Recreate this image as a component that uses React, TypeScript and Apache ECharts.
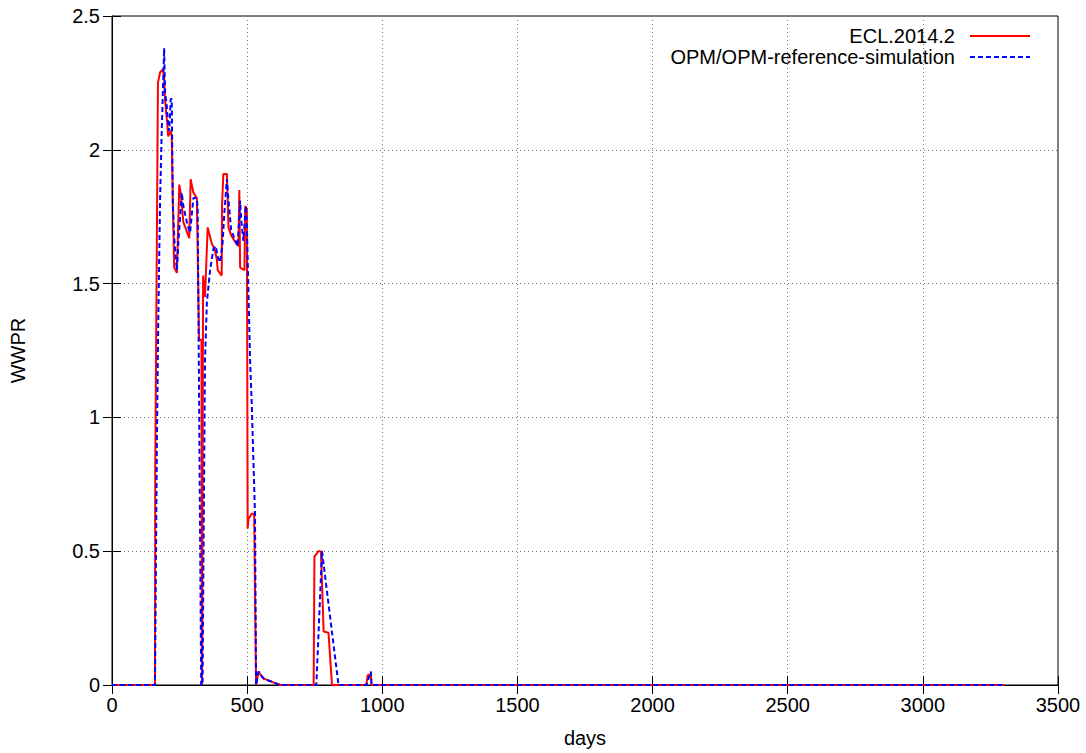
import React, { useEffect, useRef } from "react";
import * as echarts from "echarts";

const eclDays = [0, 159, 160, 170, 178, 188, 193, 196, 205, 208, 217, 221, 225, 230, 240, 249, 254, 264, 286, 291, 301, 314, 322, 331, 333, 337, 344, 354, 369, 379, 388, 391, 406, 407, 412, 425, 431, 441, 453, 468, 471, 474, 490, 493, 499, 502, 505, 517, 526, 533, 542, 551, 560, 573, 597, 622, 746, 749, 764, 773, 783, 801, 814, 941, 946, 958, 960, 3300];
const eclWwpr = [0, 0, 0.8, 2.25, 2.29, 2.3, 2.27, 2.19, 2.09, 2.05, 2.07, 2.05, 1.81, 1.56, 1.54, 1.87, 1.84, 1.73, 1.67, 1.89, 1.84, 1.82, 1.29, 1.29, 0, 1.53, 1.45, 1.71, 1.65, 1.63, 1.59, 1.55, 1.53, 1.79, 1.91, 1.91, 1.71, 1.68, 1.66, 1.64, 1.85, 1.56, 1.55, 1.79, 1.78, 0.585, 0.62, 0.64, 0.64, 0, 0.05, 0.037, 0.025, 0.019, 0.01, 0, 0, 0.48, 0.5, 0.5, 0.2, 0.195, 0, 0, 0.037, 0.04, 0, 0];

const opmDays = [0, 159, 166, 171, 178, 184, 193, 196, 203, 208, 212, 217, 221, 225, 231, 240, 246, 258, 264, 279, 289, 301, 314, 317, 330, 335, 344, 351, 363, 375, 384, 391, 400, 409, 416, 425, 431, 441, 453, 465, 474, 478, 486, 495, 499, 502, 505, 511, 517, 529, 530, 533, 542, 551, 560, 573, 597, 622, 756, 777, 838, 941, 958, 960, 3300];
const opmWwpr = [0, 0, 0.9, 1.35, 1.82, 2.07, 2.38, 2.22, 2.16, 2.09, 2.07, 2.19, 2.19, 1.8, 1.66, 1.55, 1.66, 1.84, 1.79, 1.72, 1.69, 1.82, 1.82, 1.78, 0, 0, 1.21, 1.43, 1.55, 1.63, 1.64, 1.6, 1.58, 1.65, 1.77, 1.89, 1.81, 1.7, 1.67, 1.64, 1.81, 1.74, 1.66, 1.79, 1.72, 1.59, 1.46, 1.21, 1.05, 0.64, 0.64, 0, 0.05, 0.037, 0.025, 0.019, 0.01, 0, 0, 0.5, 0, 0, 0.05, 0, 0];

const seriesNames = ["ECL.2014.2", "OPM/OPM-reference-simulation"];
const xTicks = { min: 0, max: 3500, interval: 500 };
const yTicks = { min: 0, max: 2.5, interval: 0.5 };

const FONT = "Liberation Sans";
const FS = 20;

export default function App() {
  const ref = useRef<HTMLDivElement>(null);
  useEffect(() => {
    document.body.style.margin = "0";
    const chart = echarts.init(ref.current!, null, { renderer: "svg" });
    const zip = (a: number[], b: number[]) => a.map((d, i) => [d, b[i]]);
    const tickStyle = { show: true, inside: true, length: 9, lineStyle: { color: "#000", width: 1 } };
    const labelStyle = { color: "#000", fontFamily: FONT, fontSize: FS };
    const fmt = (v: number) => String(v);
    const left = 112, top = 16, right = 1058;
    chart.setOption({
      animation: false,
      backgroundColor: "#fff",
      grid: { left, top, width: right - left, height: 685 - top, show: true, borderColor: "#000", borderWidth: 1, backgroundColor: "transparent" },
      xAxis: [
        {
          type: "value", ...xTicks, position: "bottom",
          axisLine: { show: true, lineStyle: { color: "#000" } },
          axisTick: tickStyle,
          axisLabel: { ...labelStyle, margin: 10, formatter: fmt },
          splitLine: { show: true, lineStyle: { color: "#777", type: [1, 3], width: 1 } },
          name: "days", nameLocation: "middle", nameGap: 43,
          nameTextStyle: { ...labelStyle },
        },
        {
          type: "value", ...xTicks, position: "top",
          axisLine: { show: false }, axisTick: tickStyle, axisLabel: { show: false }, splitLine: { show: false },
        },
      ],
      yAxis: [
        {
          type: "value", ...yTicks, position: "left",
          axisLine: { show: true, lineStyle: { color: "#000" } },
          axisTick: tickStyle,
          axisLabel: { ...labelStyle, margin: 12, formatter: fmt },
          splitLine: { show: true, lineStyle: { color: "#777", type: [1, 3], width: 1 } },
          name: "WWPR", nameLocation: "middle", nameGap: 84, nameRotate: 90,
          nameTextStyle: { ...labelStyle },
        },
        {
          type: "value", ...yTicks, position: "right",
          axisLine: { show: false }, axisTick: tickStyle, axisLabel: { show: false }, splitLine: { show: false },
        },
      ],
      series: [
        {
          name: seriesNames[0], type: "line", data: zip(eclDays, eclWwpr), showSymbol: false, symbol: "none",
          lineStyle: { color: "#ff0000", width: 2 }, xAxisIndex: 0, yAxisIndex: 0, z: 2,
        },
        {
          name: seriesNames[1], type: "line", data: zip(opmDays, opmWwpr), showSymbol: false, symbol: "none",
          lineStyle: { color: "#0000ff", width: 2, type: [5, 3] }, xAxisIndex: 0, yAxisIndex: 0, z: 3,
        },
      ],
      graphic: [
        { type: "text", x: 955, y: 36, style: { text: seriesNames[0], fill: "#000", font: `${FS}px "${FONT}"`, textAlign: "right", textVerticalAlign: "middle" } },
        { type: "line", shape: { x1: 970, y1: 36, x2: 1030, y2: 36 }, style: { stroke: "#ff0000", lineWidth: 2 } },
        { type: "text", x: 955, y: 57, style: { text: seriesNames[1], fill: "#000", font: `${FS}px "${FONT}"`, textAlign: "right", textVerticalAlign: "middle" } },
        { type: "line", shape: { x1: 970, y1: 57, x2: 1030, y2: 57 }, style: { stroke: "#0000ff", lineWidth: 2, lineDash: [5, 3] } },
      ],
    });
    return () => chart.dispose();
  }, []);
  return <div ref={ref} style={{ width: 1086, height: 753 }} />;
}
